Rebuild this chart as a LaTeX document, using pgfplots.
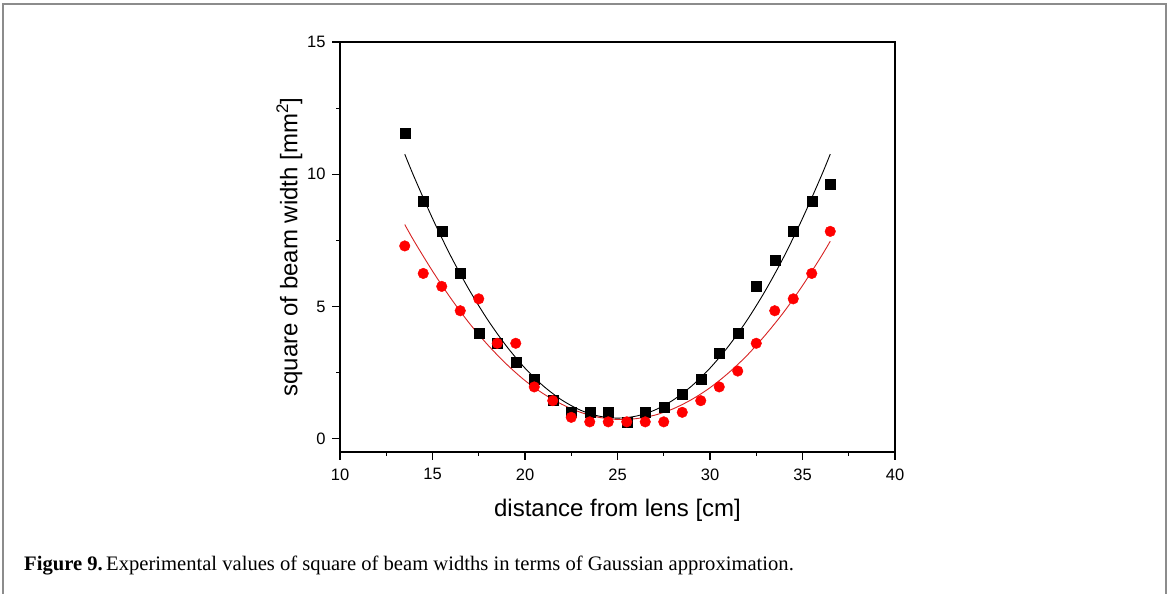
\documentclass[border=0pt]{standalone}
\usepackage{pgfplots}
\pgfplotsset{compat=1.18}
\usepackage{pgfplotstable}
\usepackage{fontspec}
\setmainfont{Liberation Serif}
\newfontfamily\arial{Liberation Sans}

\definecolor{fitred}{RGB}{215,35,35}

% measured squared beam widths [mm^2] vs distance from lens [cm]
\pgfplotstableread{
x y
13.5 11.56
14.5 9.00
15.5 7.84
16.5 6.25
17.5 4.00
18.5 3.61
19.5 2.89
20.5 2.25
21.5 1.44
22.5 1.00
23.5 1.00
24.5 1.00
25.5 0.64
26.5 1.00
27.5 1.21
28.5 1.69
29.5 2.25
30.5 3.24
31.5 4.00
32.5 5.76
33.5 6.76
34.5 7.84
35.5 9.00
36.5 9.61
}\blackdata

\pgfplotstableread{
x y
13.5 7.29
14.5 6.25
15.5 5.76
16.5 4.84
17.5 5.29
18.5 3.61
19.5 3.61
20.5 1.96
21.5 1.44
22.5 0.81
23.5 0.64
24.5 0.64
25.5 0.64
26.5 0.64
27.5 0.64
28.5 1.00
29.5 1.44
30.5 1.96
31.5 2.56
32.5 3.61
33.5 4.84
34.5 5.29
35.5 6.25
36.5 7.84
}\reddata

% Gaussian-beam fits
\pgfplotstableread{
x y
13.5 10.76
14 9.91
15 8.33
16 6.89
17 5.61
18 4.48
19 3.50
20 2.67
21 1.99
22 1.46
23 1.08
24 0.855
25 0.78
26 0.855
27 1.08
28 1.46
29 1.99
30 2.67
31 3.50
32 4.48
33 5.61
34 6.89
35 8.33
36 9.91
36.5 10.76
}\blackfit

\pgfplotstableread{
x y
13.5 8.10
14 7.48
15 6.34
16 5.30
17 4.36
18 3.54
19 2.82
20 2.20
21 1.70
22 1.30
23 1.00
24 0.81
25 0.73
26 0.76
27 0.89
28 1.13
29 1.48
30 1.93
31 2.49
32 3.15
33 3.93
34 4.80
35 5.79
36 6.88
36.5 7.47
}\redfit

\begin{document}
\begin{tikzpicture}[x=1pt,y=1pt]
\useasboundingbox (0,0) rectangle (1170,594);
\draw[black!45, line width=1.5pt] (3,-2) -- (3,590) -- (1166,590) -- (1166,-2);

\begin{axis}[
  at={(340pt,142pt)}, anchor=south west,
  scale only axis, width=555pt, height=410pt,
  xmin=10, xmax=40, ymin=-0.5, ymax=15,
  xtick={10,15,...,40}, ytick={0,5,10,15},
  minor x tick num=1, minor y tick num=1,
  tick pos=left, tick align=outside,
  major tick length=8pt, minor tick length=4pt,
  axis line style={line width=1.3pt},
  every tick/.style={black, line width=1.1pt},
  font=\arial\fontsize{16.5}{19}\selectfont,
  /pgf/number format/assume math mode=true,
  xticklabel style={anchor=north, yshift=-5pt},
  yticklabel style={anchor=east, xshift=-3pt},
  xlabel={distance from lens [cm]},
  ylabel={square of beam width [mm\textsuperscript{2}]},
  label style={font=\arial\fontsize{24}{28}\selectfont},
  xlabel style={at={(axis description cs:0.5,-0.1585)}, anchor=base},
  ylabel style={at={(axis description cs:-0.077,0.5)}, anchor=base},
  clip=false,
]
\addplot[only marks, mark=square*, mark size=5pt, black] table {\blackdata};
\addplot[only marks, mark=*, mark size=5.3pt, draw=red, fill=red] table {\reddata};
\addplot[smooth, black, line width=0.9pt] table {\blackfit};
\addplot[smooth, fitred, line width=0.9pt] table {\redfit};
\end{axis}

\node[anchor=base west, inner sep=0pt, font=\fontsize{20.6}{24}\selectfont]
  at (24,23) {\textbf{Figure 9.}\,Experimental values of square of beam widths in terms of Gaussian approximation.};
\end{tikzpicture}
\end{document}
